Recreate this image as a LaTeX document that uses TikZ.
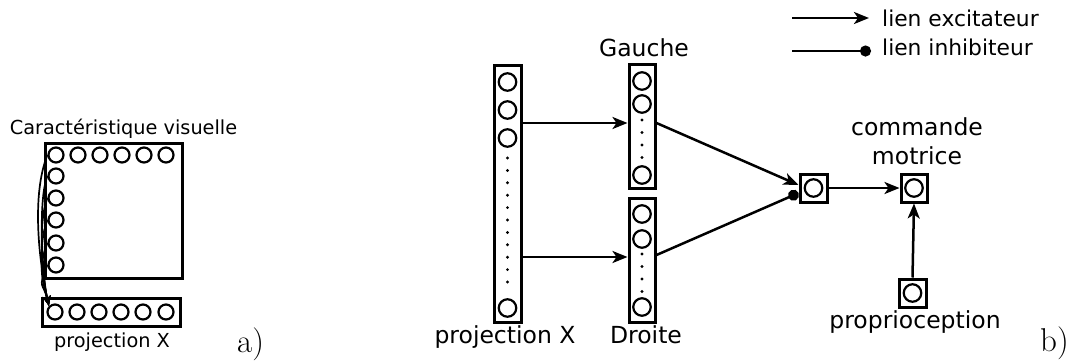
\documentclass[tikz,border=0pt]{standalone}
\usepackage{fontspec}
\newfontfamily\dv{DejaVu Sans}
\usetikzlibrary{arrows.meta}
\begin{document}
\begin{tikzpicture}[x=1pt,y=-1pt,
  box/.style={draw,rectangle,line width=3pt,inner sep=0pt},
  nrn/.style={draw,circle,line width=2.2pt,inner sep=0pt,minimum size=15pt},
  nrnb/.style={nrn,minimum size=17.5pt},
  exc/.style={line width=2.5pt,-{Stealth[length=15pt,width=12pt,inset=4pt]}},
  inh/.style={line width=2.5pt,-{Circle[length=11pt]}},
  excs/.style={line width=1.7pt,-{Stealth[length=10pt,width=8pt,inset=2.5pt]}},
  lab/.style={font={\dv\fontsize{23.5}{28}\selectfont},inner sep=0pt,anchor=base},
  labs/.style={font={\dv\fontsize{19.3}{23}\selectfont},inner sep=0pt,anchor=base},
  labl/.style={font={\dv\fontsize{21.8}{26}\selectfont},inner sep=0pt,anchor=base west},
  tag/.style={font={\fontsize{33}{38}\selectfont},inner sep=0pt,anchor=base west}]
\useasboundingbox (0,0) rectangle (1068,360);

% ---------- part a ----------
\node[box,minimum width=137pt,minimum height=135pt] (vis) at (113.5,210.5) {};
\foreach \i/\x in {1/56,2/78,3/100,4/122,5/144,6/166}
  \node[nrn] (t\i) at (\x,155) {};
\foreach \i/\y in {2/176,3/198,4/220,5/243,6/265}
  \node[nrn] (l\i) at (56,\y) {};
\node[box,minimum width=138pt,minimum height=28pt] (pbox) at (111,312) {};
\foreach \i/\x in {1/55,2/77,3/99,4/121,5/143,6/166}
  \node[nrn] (b\i) at (\x,312) {};
\draw[excs] (t1.west) .. controls +(-16,40) and +(-10,-45) .. (b1.north west);
\foreach \n in {l2,l3,l4,l5,l6}
  \draw[excs] (\n.west) .. controls +(-10,25) and +(-6,-25) .. (b1.north west);
\node[labs] (cv) at (123.5,134) {Caractéristique visuelle};
\node[labs] (pxa) at (112,347) {projection X};
\node[tag] (ta) at (237,352) {a)};

% ---------- part b ----------
\node[box,minimum width=27pt,minimum height=257pt] (px) at (507.5,193.5) {};
\foreach \i/\y in {1/82,2/110,3/138,4/308}
  \node[nrnb] (px\i) at (507.5,\y) {};
\foreach \y in {158,170.4,182.8,195.2,207.6,220,232.4,244.8,257.2,269.6,282}
  \fill (507.5,\y) circle (1.6);

\node[box,minimum width=26pt,minimum height=124pt] (g) at (642,126) {};
\foreach \i/\y in {1/81,2/104,3/175}
  \node[nrnb] (g\i) at (642,\y) {};
\foreach \y in {120,132.5,145,157.5}
  \fill (642,\y) circle (1.6);

\node[box,minimum width=26pt,minimum height=124pt] (d) at (642,260) {};
\foreach \i/\y in {1/214,2/239,3/307}
  \node[nrnb] (d\i) at (642,\y) {};
\foreach \y in {254,266.5,279,291.5}
  \fill (642,\y) circle (1.6);

\node[box,minimum width=27pt,minimum height=28pt] (mid) at (813.5,188) {};
\node[nrnb] (midc) at (813.5,188) {};
\node[box,minimum width=26pt,minimum height=28pt] (cm) at (914,188) {};
\node[nrnb] (cmc) at (914,188) {};
\node[box,minimum width=27pt,minimum height=28pt] (pr) at (912.5,293) {};
\node[nrnb] (prc) at (912.5,293) {};

\draw[exc] (px.east |- 0,123) -- (g.west |- 0,123);
\draw[exc] (px.east |- 0,257) -- (d.west |- 0,257);
\draw[exc] (g.east |- 0,123) -- ([yshift=3pt]mid.west);
\draw[inh] (d.east |- 0,255) -- ([yshift=-5pt]mid.west);
\draw[exc] (mid.east) -- (cm.west);
\draw[exc] (pr.north) -- (cm.south);

\node[lab] (lg) at (644,56) {Gauche};
\node[lab] (ld) at (646,343) {Droite};
\node[lab] (lpx) at (505,343) {projection X};
\node[lab] (lc1) at (917,135) {commande};
\node[lab] (lc2) at (917,164) {motrice};
\node[lab] (lp) at (915,328) {proprioception};
\node[tag] (tb) at (1040,351) {b)};

% legend
\coordinate (e1) at (792,18);
\coordinate (e2) at (869,18);
\coordinate (i1) at (792,51);
\coordinate (i2) at (871,51);
\draw[exc] (e1) -- (e2);
\draw[inh] (i1) -- (i2);
\node[labl] (le) at (882,26) {lien excitateur};
\node[labl] (li) at (882,55) {lien inhibiteur};
\end{tikzpicture}
\end{document}
